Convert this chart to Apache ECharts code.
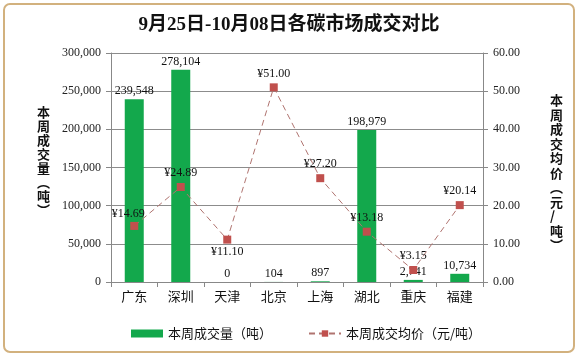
<!DOCTYPE html>
<html><head><meta charset="utf-8">
<script src="https://cdn.jsdelivr.net/npm/echarts@6/dist/echarts.min.js"></script>
<style>html,body{margin:0;padding:0;background:#fff}#c{width:578px;height:359px}</style>
</head><body><div id="c"></div>
<script>
const categories = ['广东','深圳','天津','北京','上海','湖北','重庆','福建'];
const volume = [239548, 278104, 0, 104, 897, 198979, 2741, 10734];
const price = [14.69, 24.89, 11.10, 51.00, 27.20, 13.18, 3.15, 20.14];
const leftTicks = {min:0, max:300000, interval:50000};
const rightTicks = {min:0, max:60, interval:10};
const titleText = '9月25日-10月08日各碳市场成交对比';
const barName = '本周成交量（吨）';
const lineName = '本周成交均价（元/吨）';

const serif = '"Liberation Serif", "Noto Sans CJK SC", serif';
const linePos = {'广东':['top',[-6,2]], '天津':['bottom',[0,-2]]};

const chart = echarts.init(document.getElementById('c'));
chart.setOption({
  animation:false,
  backgroundColor:'#fff',
  title:{text:titleText,left:'center',top:11,textStyle:{fontFamily:serif,fontSize:19,fontWeight:'bold',color:'#111'}},
  grid:{left:111,right:95,top:53,height:229},
  legend:{bottom:19,left:131,padding:0,itemWidth:32,itemHeight:8,itemGap:36,
    textStyle:{fontFamily:'"Noto Sans CJK SC"',fontSize:13,color:'#111'},
    data:[{name:barName,icon:'rect'},{name:lineName}]},
  xAxis:{type:'category',data:categories,
    axisLine:{lineStyle:{color:'#888'}},
    axisTick:{show:true,length:5,lineStyle:{color:'#888'}},
    axisLabel:{color:'#111',fontSize:13,fontFamily:'"Noto Sans CJK SC"',margin:8}},
  yAxis:[
    {type:'value',min:leftTicks.min,max:leftTicks.max,interval:leftTicks.interval,
     axisLine:{show:true,lineStyle:{color:'#888'}},
     axisTick:{show:true,length:5,lineStyle:{color:'#888'}},
     splitLine:{lineStyle:{color:'#8c8c8c'}},
     axisLabel:{color:'#222',fontFamily:serif,fontSize:12,margin:10,
       formatter:v=>v.toLocaleString('en-US')}},
    {type:'value',min:rightTicks.min,max:rightTicks.max,interval:rightTicks.interval,
     axisLine:{show:true,lineStyle:{color:'#888'}},
     axisTick:{show:true,length:5,lineStyle:{color:'#888'}},
     splitLine:{show:false},
     axisLabel:{color:'#222',fontFamily:serif,fontSize:12,margin:10,
       formatter:v=>v.toFixed(2)}}
  ],
  series:[
    {name:barName,type:'bar',data:volume,barWidth:19,yAxisIndex:0,
     itemStyle:{color:'#13a84c'},
     label:{show:true,position:'top',distance:2,color:'#111',fontFamily:serif,fontSize:12,
       formatter:p=>p.value.toLocaleString('en-US')}},
    {name:lineName,type:'line',data:price.map((v,i)=>{
        const lp = linePos[categories[i]];
        return lp ? {value:v,label:{position:lp[0],offset:lp[1]}} : v;
      }),yAxisIndex:1,
     symbol:'rect',symbolSize:8,
     itemStyle:{color:'#c0504d'},
     lineStyle:{color:'#b07470',width:1,type:[6,4]},
     label:{show:true,position:'top',distance:4,color:'#111',fontFamily:serif,fontSize:12,
       formatter:p=>'¥'+p.value.toFixed(2)}}
  ],
  graphic:[
    {type:'rect',shape:{x:4,y:4,width:570,height:348,r:6},style:{fill:'none',stroke:'#d2b17e',lineWidth:2},silent:true},
    {type:'text',left:37,top:105,style:{text:'本\n周\n成\n交\n量\n︵\n吨\n︶',font:'bold 13px "Noto Sans CJK SC"',lineHeight:14,fill:'#111',align:'center'}},
    {type:'text',left:550,top:93,style:{text:'本\n周\n成\n交\n均\n价\n︵\n元\n/\n吨\n︶',font:'bold 13px "Noto Sans CJK SC"',lineHeight:14.5,fill:'#111',align:'center'}}
  ]
});
</script></body></html>
